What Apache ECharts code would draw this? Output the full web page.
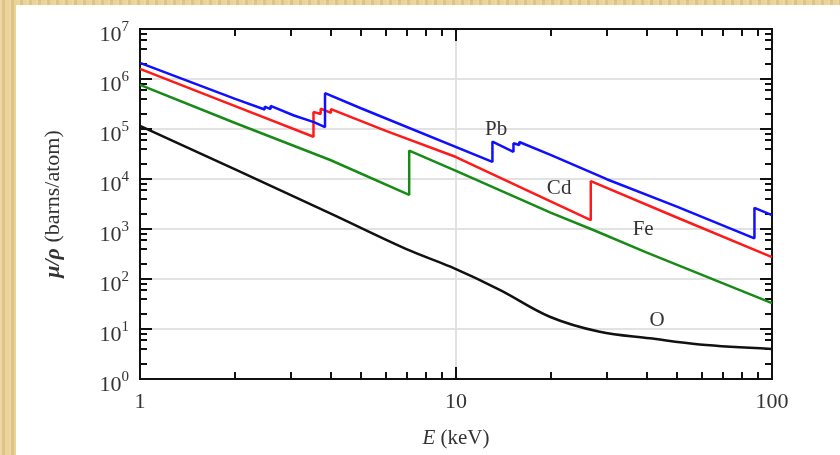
<!DOCTYPE html>
<html>
<head>
<meta charset="utf-8">
<script src="https://cdn.jsdelivr.net/npm/echarts@6/dist/echarts.min.js"></script>
<style>
  html, body { margin: 0; padding: 0; }
  body {
    width: 840px; height: 455px; overflow: hidden; position: relative;
    background-color: #e6cf92;
    background-image: repeating-linear-gradient(90deg, rgba(255,255,255,0.18) 0 2px, rgba(160,120,40,0.12) 2px 5px, rgba(255,240,200,0.15) 5px 9px);
  }
  .paper { position: absolute; left: 16px; top: 5px; right: 0; bottom: 0; background: #fff; }
  #chart { position: absolute; left: 0; top: 0; width: 840px; height: 455px; }
</style>
</head>
<body>
<div class="paper"></div>
<div id="chart"></div>
<script>
// photon energy (keV) and mass attenuation (barns/atom)
const pbE  = [1, 2, 2.48, 2.48, 2.59, 2.59, 3.07, 3.07, 3.55, 3.55, 3.85, 3.85, 5, 13.04, 13.04, 15.2, 15.2, 15.86, 15.86, 20, 30, 50, 88, 88, 100];
const pbMu = [2.1e6, 4.0e5, 2.45e5, 2.8e5, 2.5e5, 2.9e5, 1.86e5, 2.0e5, 1.37e5, 1.35e5, 1.09e5, 5.2e5, 2.6e5, 2.2e4, 5.6e4, 3.5e4, 5.2e4, 4.8e4, 5.5e4, 3.0e4, 9.9e3, 2.8e3, 650, 2650, 1900];

const cdE  = [1, 2, 3.54, 3.54, 3.73, 3.73, 4.02, 4.02, 6, 10, 18, 26.7, 26.7, 50, 100];
const cdMu = [1.6e6, 2.86e5, 7.0e4, 2.2e5, 2.0e5, 2.55e5, 2.1e5, 2.5e5, 9.2e4, 2.75e4, 4.8e3, 1.5e3, 9.1e3, 1.7e3, 275];

const feE  = [1, 2, 4, 7.11, 7.11, 10, 20, 27.2, 40, 100];
const feMu = [7.6e5, 1.32e5, 2.4e4, 4.8e3, 3.7e4, 1.45e4, 2.1e3, 955, 340, 33];

const oE  = [1, 2, 4, 7, 9.6, 13.8, 19.8, 28.5, 41, 59, 100];
const oMu = [1.15e5, 1.55e4, 2.05e3, 390, 176, 60, 17.6, 8.8, 6.5, 4.9, 4.0];

const elements = ['Pb', 'Cd', 'Fe', 'O'];
const labelE   = [13.4, 21.2, 39.1, 43.3];
const labelMu  = [1.0e5, 6.6e3, 1.0e3, 14.5];

const xMajor = [1, 10, 100];
const xMinor = [2, 3, 4, 5, 6, 7, 8, 9, 20, 30, 40, 50, 60, 70, 80, 90];
const yMajor = [1, 10, 1e2, 1e3, 1e4, 1e5, 1e6, 1e7];
const yMinor = [];
yMajor.slice(0, -1).forEach(d => { [2, 4, 6, 8].forEach(m => yMinor.push(m * d)); });

const FONT = '"Liberation Serif", "DejaVu Serif", serif';
const zip = (a, b) => a.map((v, i) => [v, b[i]]);

const chart = echarts.init(document.getElementById('chart'));

function xAx(pos, ticks, len, labels, grid) {
  return {
    type: 'log', logBase: 10, min: 1, max: 100, position: pos,
    axisLine: { show: true, onZero: false, lineStyle: { color: '#111', width: 2 } },
    axisTick: { show: true, inside: true, length: len, customValues: ticks, lineStyle: { color: '#111', width: 2 } },
    minorTick: { show: false },
    axisLabel: labels ? {
      show: true, customValues: xMajor, margin: 12, color: '#333', fontSize: 22, fontFamily: FONT
    } : { show: false },
    splitLine: { show: !!grid, customValues: xMajor, lineStyle: { color: '#e2e2e2', width: 2 } },
    name: labels ? '{i|E} (keV)' : '',
    nameLocation: 'middle', nameGap: 49,
    nameTextStyle: { color: '#333', fontSize: 21, fontFamily: FONT, rich: { i: { fontStyle: 'italic', fontSize: 21, fontFamily: FONT, color: '#333' } } }
  };
}
function yAx(pos, ticks, len, labels, grid) {
  return {
    type: 'log', logBase: 10, min: 1, max: 1e7, position: pos,
    axisLine: { show: true, onZero: false, lineStyle: { color: '#111', width: 2 } },
    axisTick: { show: true, inside: true, length: len, customValues: ticks, lineStyle: { color: '#111', width: 2 } },
    minorTick: { show: false },
    axisLabel: labels ? {
      show: true, customValues: yMajor, margin: 11, padding: [8, 0, 0, 0],
      formatter: v => '{b|10}{s|' + Math.round(Math.log10(v)) + '}',
      rich: {
        b: { fontSize: 22, fontFamily: FONT, color: '#333', lineHeight: 26, verticalAlign: 'bottom' },
        s: { fontSize: 15, fontFamily: FONT, color: '#333', lineHeight: 16, verticalAlign: 'top', padding: [0, 0, 8, 0] }
      }
    } : { show: false },
    splitLine: { show: !!grid, customValues: yMajor, lineStyle: { color: '#e2e2e2', width: 2 } },
    name: labels ? '{i|μ/ρ} (barns/atom)' : '',
    nameLocation: 'middle', nameGap: 76, nameRotate: 90,
    nameTextStyle: { color: '#333', fontSize: 22, fontFamily: FONT, rich: { i: { fontStyle: 'italic', fontWeight: 'bold', fontSize: 22, fontFamily: FONT, color: '#333' } } }
  };
}

const colors = ['#1010ff', '#ff1a1a', '#178a17', '#111111'];
const sets = [zip(pbE, pbMu), zip(cdE, cdMu), zip(feE, feMu), zip(oE, oMu)];

const option = {
  animation: false,
  grid: { left: 140, top: 29, right: 68, bottom: 76, containLabel: false },
  xAxis: [
    xAx('bottom', xMajor, 12, true, true),
    xAx('bottom', xMinor, 7, false, false),
    xAx('top', xMajor, 12, false, false),
    xAx('top', xMinor, 7, false, false)
  ],
  yAxis: [
    yAx('left', yMajor, 12, true, true),
    yAx('left', yMinor, 7, false, false),
    yAx('right', yMajor, 12, false, false),
    yAx('right', yMinor, 7, false, false)
  ],
  series: sets.map((d, i) => ({
    name: elements[i],
    type: 'line',
    xAxisIndex: 0, yAxisIndex: 0,
    data: d,
    symbol: 'none',
    // only the O curve bends smoothly; the others have absorption edges
    smooth: elements[i] === 'O' ? 0.35 : false,
    lineStyle: { color: colors[i], width: 2.5 },
    z: 5 - i,
    markPoint: {
      symbol: 'circle', symbolSize: 1,
      itemStyle: { color: 'transparent' },
      label: { show: true, position: 'inside', formatter: elements[i], color: '#333', fontSize: 21, fontFamily: FONT },
      data: [{ coord: [labelE[i], labelMu[i]] }]
    }
  }))
};

chart.setOption(option);
window.addEventListener('resize', function () {
  chart.resize();
});
</script>
</body>
</html>
